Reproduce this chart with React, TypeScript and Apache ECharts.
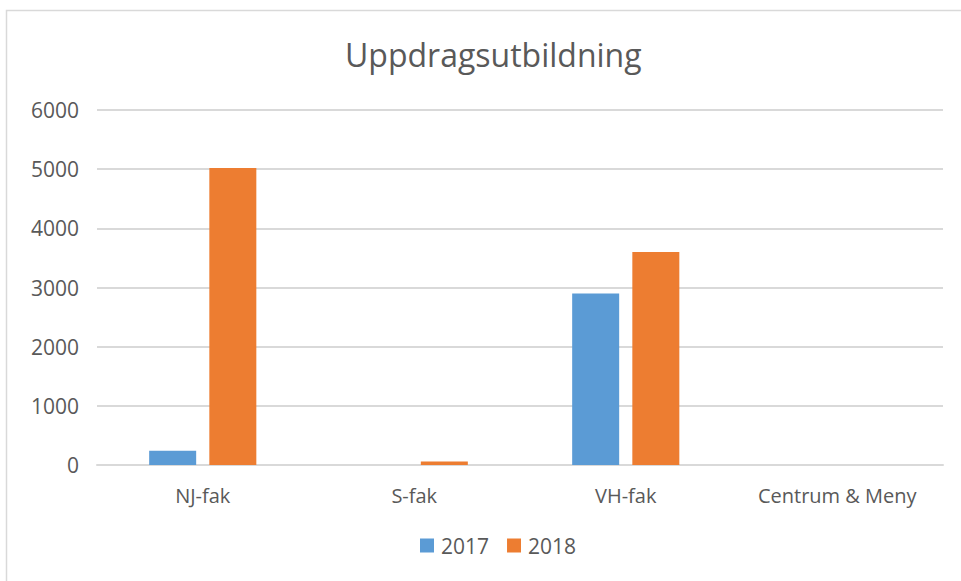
import React, { useEffect, useRef } from "react";
import * as echarts from "echarts";

const categories = ["NJ-fak", "S-fak", "VH-fak", "Centrum & Meny"];
const series2017 = [240, 0, 2900, 0];
const series2018 = [5020, 60, 3600, 0];
const seriesNames = ["2017", "2018"];
const titleText = "Uppdragsutbildning";

export default function App() {
  const ref = useRef<HTMLDivElement>(null);
  useEffect(() => {
    if (!ref.current) return;
    const chart = echarts.init(ref.current, undefined, { renderer: "svg" });
    const font = "'Open Sans', sans-serif";
    chart.setOption({
      animation: false,
      backgroundColor: "#ffffff",
      title: {
        text: titleText,
        left: 340,
        top: 33,
        textStyle: { fontFamily: font, fontSize: 32, fontWeight: "normal", color: "#595959" },
      },
      graphic: [
        {
          type: "rect",
          shape: { x: 6.5, y: 10.5, width: 1000, height: 1000 },
          style: { fill: "none", stroke: "#D9D9D9", lineWidth: 1.5 },
          silent: true,
        },
      ],
      legend: {
        data: seriesNames,
        bottom: 20,
        left: 415,
        icon: "rect",
        itemWidth: 14,
        itemHeight: 14,
        itemGap: 18,
        textStyle: { fontFamily: font, fontSize: 21, color: "#595959", padding: [0, 0, 0, 2] },
      },
      grid: { left: 97, right: 18, top: 110, bottom: 116 },
      xAxis: {
        type: "category",
        data: categories,
        axisLine: { show: true, lineStyle: { color: "#D9D9D9", width: 2 } },
        axisTick: { show: false },
        axisLabel: { fontFamily: font, fontSize: 20, color: "#595959", margin: 20, interval: 0 },
      },
      yAxis: {
        type: "value",
        min: 0,
        max: 6000,
        interval: 1000,
        axisLine: { show: false },
        axisTick: { show: false },
        axisLabel: {
          fontFamily: font,
          fontSize: 21,
          color: "#595959",
          margin: 18,
          formatter: (v: number) => String(v),
        },
        splitLine: { lineStyle: { color: "#D9D9D9", width: 2 } },
      },
      series: [
        {
          name: seriesNames[0],
          type: "bar",
          data: series2017,
          barWidth: 47,
          barGap: "28%",
          itemStyle: { color: "#5B9BD5" },
        },
        {
          name: seriesNames[1],
          type: "bar",
          data: series2018,
          barWidth: 47,
          barGap: "28%",
          itemStyle: { color: "#ED7D31" },
        },
      ],
    });
    return () => chart.dispose();
  }, []);
  return (
    <div
      ref={ref}
      style={{ position: "fixed", left: 0, top: 0, width: 961, height: 581 }}
    />
  );
}
